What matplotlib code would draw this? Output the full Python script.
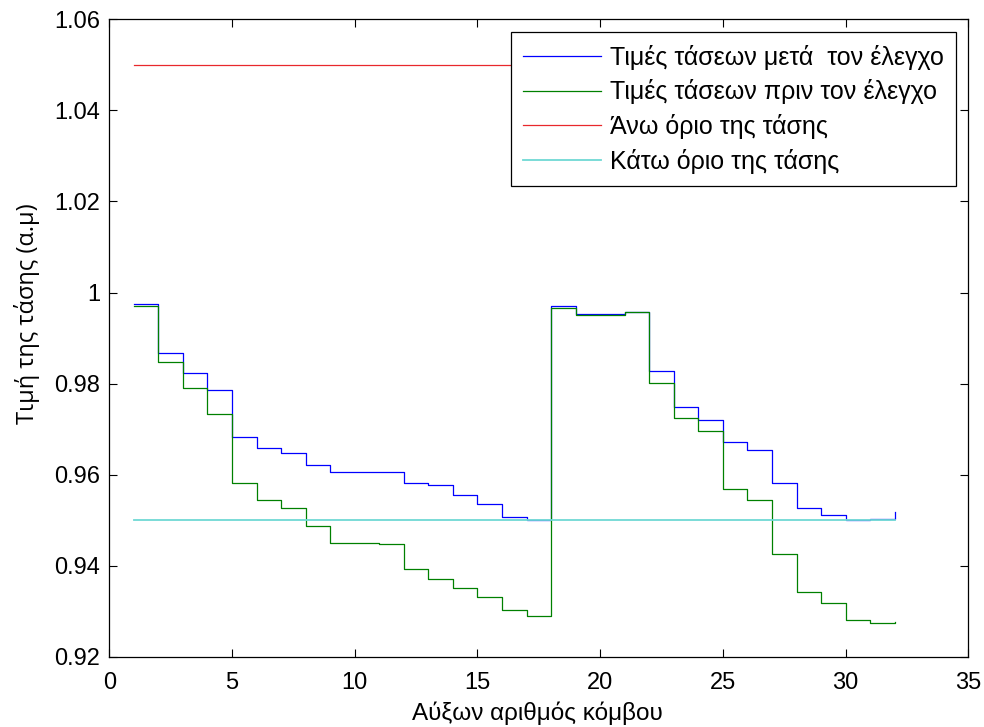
import numpy as np
import matplotlib
matplotlib.use("Agg")
import matplotlib.pyplot as plt

plt.rcParams['font.family'] = ['Liberation Sans', 'DejaVu Sans']

nodes = list(range(1, 33))
v_after = [0.9974, 0.9868, 0.9823, 0.9786, 0.9684, 0.9659, 0.9647, 0.9622,
           0.9606, 0.9606, 0.9606, 0.9581, 0.9577, 0.9556, 0.9536, 0.9507,
           0.9501, 0.9971, 0.9953, 0.9953, 0.9958, 0.9827, 0.9749, 0.9720,
           0.9671, 0.9655, 0.9581, 0.9528, 0.9511, 0.9500, 0.9503, 0.9519]
v_before = [0.9971, 0.9848, 0.9790, 0.9733, 0.9581, 0.9545, 0.9527, 0.9488,
            0.9450, 0.9450, 0.9447, 0.9393, 0.9372, 0.9351, 0.9331, 0.9303,
            0.9290, 0.9967, 0.9950, 0.9950, 0.9958, 0.9802, 0.9725, 0.9696,
            0.9569, 0.9544, 0.9425, 0.9343, 0.9319, 0.9282, 0.9275, 0.9276]
upper_limit = 1.05
lower_limit = 0.95

labels = ['Τιμές τάσεων μετά  τον έλεγχο', 'Τιμές τάσεων πριν τον έλεγχο',
          'Άνω όριο της τάσης', 'Κάτω όριο της τάσης']

fig = plt.figure(figsize=(9.84, 7.27), dpi=100)
ax = fig.add_axes([0.1111, 0.0963, 0.873, 0.8772])

ax.step(nodes, v_after, where='post', color='#0000ff', lw=0.9, label=labels[0])
ax.step(nodes, v_before, where='post', color='#008000', lw=0.9, label=labels[1])
ax.plot([nodes[0], nodes[-1]], [upper_limit, upper_limit], color='#e8282c', lw=0.9, label=labels[2])
ax.plot([nodes[0], nodes[-1]], [lower_limit, lower_limit], color='#6fd9d4', lw=1.3, label=labels[3])

ax.set_xlim(0, 35)
ax.set_ylim(0.92, 1.06)
ax.set_xticks(np.arange(0, 36, 5))
ax.set_yticks([0.92, 0.94, 0.96, 0.98, 1.0, 1.02, 1.04, 1.06])
ax.set_yticklabels(['0.92', '0.94', '0.96', '0.98', '1', '1.02', '1.04', '1.06'])
ax.tick_params(direction='in', length=5.5, width=0.8, top=True, right=True,
               labelsize=17)
ax.tick_params(axis='x', pad=11)
ax.tick_params(axis='y', pad=6.5)
for s in ax.spines.values():
    s.set_linewidth(0.9)

ax.set_xlabel('Αύξων αριθμός κόμβου', fontsize=17.5, va='center')
ax.xaxis.set_label_coords(0.498, -0.089)
ax.set_ylabel('Τιμή της τάσης (α.μ)', fontsize=17, va='center',
              family=['Open Sans', 'DejaVu Sans'])
ax.yaxis.set_label_coords(-0.096, 0.539)

leg = ax.legend(loc='upper right', bbox_to_anchor=(0.9857, 0.980), fontsize=18,
                frameon=True, fancybox=False, framealpha=1, edgecolor='black',
                handlelength=3.1, handletextpad=0.36, borderpad=0.5,
                borderaxespad=0, labelspacing=0.39)
leg.get_frame().set_linewidth(0.9)

fig.savefig('out.png', dpi=100)
